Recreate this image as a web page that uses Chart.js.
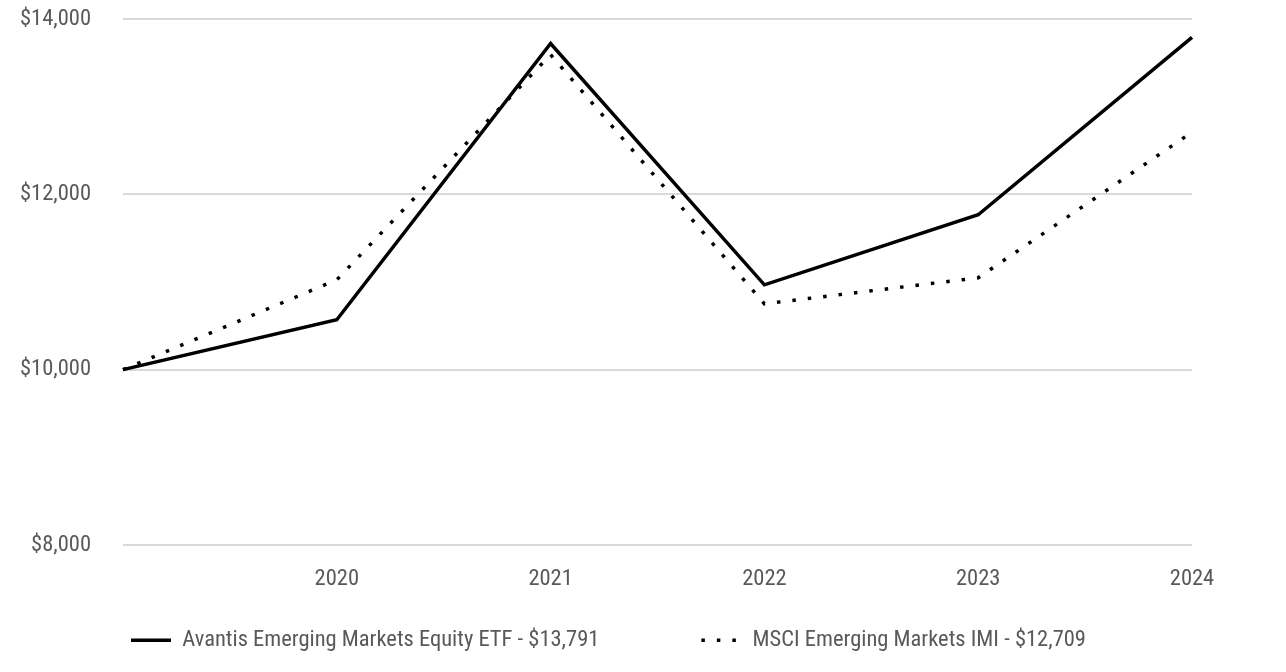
<!DOCTYPE html>
<html>
<head>
<meta charset="utf-8">
<script src="https://cdn.jsdelivr.net/npm/chart.js@4/dist/chart.umd.min.js"></script>
<style>
html,body{margin:0;padding:0;background:#fff;}
#wrap{width:1286px;height:672px;}
</style>
</head>
<body>
<div id="wrap"><canvas id="c" width="1286" height="672"></canvas></div>
<script>
const categories = ['', '2020', '2021', '2022', '2023', '2024'];
const fundName = 'Avantis Emerging Markets Equity ETF - $13,791';
const fundValues = [10000, 10569, 13720, 10968, 11767, 13791];
const indexName = 'MSCI Emerging Markets IMI - $12,709';
const indexValues = [10000, 11025, 13594, 10751, 11048, 12709];
const yTicks = [8000, 10000, 12000, 14000];

const FONT = '"Liberation Sans Narrow", "Arial Narrow", "Roboto Condensed", "Liberation Sans", sans-serif';
const TXT = '#595959';
const FS = 22.5;
const LEG_GAP = 102;

// Legend layout tweak: keep the wide horizontal gap between the two items
// without reserving the matching vertical space Chart.js would otherwise use.
const legendTweak = {
  id: 'legendTweak',
  afterInit(chart) {
    const lg = chart.legend;
    if (!lg) return;
    const origFit = lg.fit;
    lg.fit = function () {
      origFit.call(this);
      if (this.isHorizontal()) this.height = 71;
    };
    const origDraw = lg.draw;
    lg.draw = function () {
      const t = this.top, l = this.left;
      this.top = t - (LEG_GAP - 38);
      this.left = l + 19;
      origDraw.call(this);
      this.top = t;
      this.left = l;
    };
  }
};

new Chart(document.getElementById('c'), {
  type: 'line',
  data: {
    labels: categories,
    datasets: [
      {label: fundName, data: fundValues, borderColor: '#000', backgroundColor: '#000', borderWidth: 3.5, pointRadius: 0, tension: 0},
      {label: indexName, data: indexValues, borderColor: '#000', backgroundColor: '#000', borderWidth: 3.5, borderDash: [3.5, 12], borderCapStyle: 'butt', pointRadius: 0, tension: 0}
    ]
  },
  plugins: [legendTweak],
  options: {
    responsive: false,
    animation: false,
    layout: {padding: {left: 10, right: 94, top: 19, bottom: 10}},
    plugins: {
      tooltip: {enabled: false},
      legend: {
        position: 'bottom',
        align: 'start',
        labels: {
          usePointStyle: true,
          pointStyle: 'line',
          pointStyleWidth: 40,
          color: TXT,
          font: {family: FONT, size: FS},
          padding: LEG_GAP,
          generateLabels(chart) {
            return chart.data.datasets.map((ds, i) => ({
              text: ds.label,
              fillStyle: ds.borderColor,
              strokeStyle: ds.borderColor,
              lineWidth: ds.borderWidth,
              lineDash: ds.borderDash || [],
              lineCap: 'butt',
              pointStyle: 'line',
              fontColor: TXT,
              hidden: !chart.isDatasetVisible(i),
              datasetIndex: i
            }));
          }
        }
      }
    },
    scales: {
      x: {
        offset: false,
        afterFit: (ax) => { ax.height = 46; },
        grid: {display: false, drawTicks: false},
        border: {display: false},
        ticks: {color: TXT, font: {family: FONT, size: FS}, padding: 21, maxRotation: 0, autoSkip: false}
      },
      y: {
        min: 8000, max: 14000,
        afterBuildTicks: (ax) => { ax.ticks = yTicks.map(v => ({value: v})); },
        afterFit: (ax) => { ax.width = 113; ax.paddingTop = 0; ax.paddingBottom = 0; },
        grid: {color: '#d9d9d9', lineWidth: 2, drawTicks: false},
        border: {display: false},
        ticks: {color: TXT, font: {family: FONT, size: FS}, padding: 32,
          callback: (v) => '$' + v.toLocaleString('en-US')}
      }
    }
  }
});
</script>
</body>
</html>
